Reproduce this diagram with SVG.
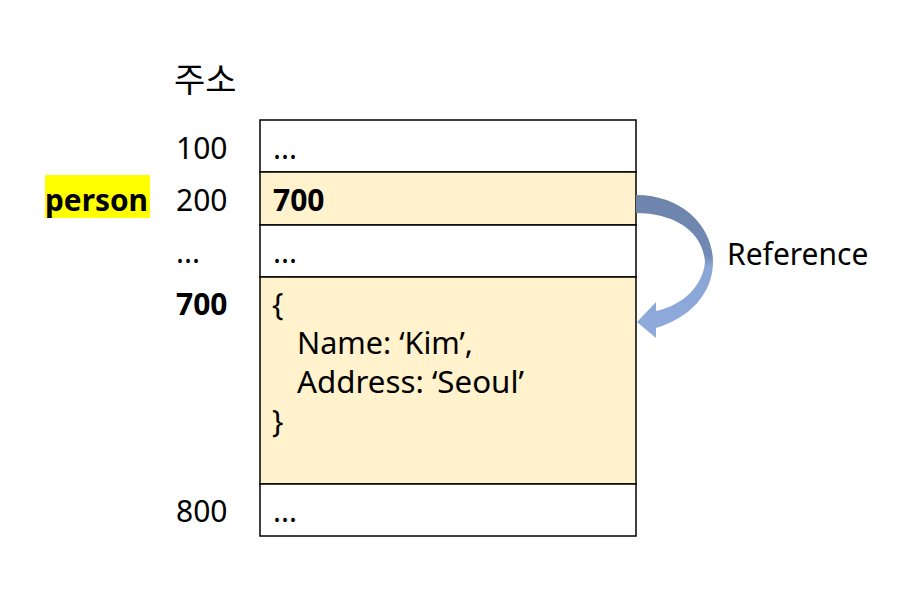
<svg xmlns="http://www.w3.org/2000/svg" width="905" height="608" viewBox="0 0 905 608">
<defs>
<linearGradient id="g" x1="0" y1="195" x2="0" y2="338" gradientUnits="userSpaceOnUse">
<stop offset="0" stop-color="#6e84ab"/>
<stop offset="0.42" stop-color="#7189b4"/>
<stop offset="0.5" stop-color="#8aa6d6"/>
<stop offset="1" stop-color="#8faadc"/>
</linearGradient>
</defs>
<style>
text{font-family:"Noto Sans","Noto Sans CJK KR",sans-serif;font-size:30px;fill:#000}
.b{font-weight:bold}
.cell{stroke:#000;stroke-width:1.5}
.w{fill:#fff}
.y{fill:#fff2cc}
</style>
<rect width="905" height="608" fill="#fff"/>
<text x="174" y="92" style="font-family:'Noto Sans CJK KR',sans-serif;font-size:34px">주소</text>
<g id="row100">
<rect class="cell w" x="260" y="120" width="376" height="52"/>
<text x="176" y="159">100</text>
<text x="273" y="159">...</text>
</g>
<g id="row200">
<rect class="cell y" x="260" y="172" width="376" height="53"/>
<rect x="45" y="175" width="105" height="43" fill="#ffff00"/>
<text class="b" x="45" y="211" textLength="103" lengthAdjust="spacingAndGlyphs">person</text>
<text x="176" y="211">200</text>
<text class="b" x="273" y="211">700</text>
</g>
<g id="rowdots">
<rect class="cell w" x="260" y="225" width="376" height="52"/>
<text x="176" y="263">...</text>
<text x="273" y="263">...</text>
</g>
<g id="row700">
<rect class="cell y" x="260" y="277" width="376" height="207"/>
<text class="b" x="176" y="315">700</text>
<text x="272" y="315">{</text>
<text x="297" y="354" textLength="176" lengthAdjust="spacingAndGlyphs">Name: ‘Kim’,</text>
<text x="297" y="393" textLength="227" lengthAdjust="spacingAndGlyphs">Address: ‘Seoul’</text>
<text x="272" y="432">}</text>
</g>
<g id="row800">
<rect class="cell w" x="260" y="484" width="376" height="52"/>
<text x="176" y="522">800</text>
<text x="273" y="522">...</text>
</g>
<g id="connectors">
<path d="M636 195 C684 195 713 228 713 262 C713 293 690 318 656 328 L656 338 L637 322 L656 302 L656 311 C684 305 703 285 705 262 C703 232 675 213 636 213 Z" fill="url(#g)"/>
<text x="727" y="265">Reference</text>
</g>
</svg>
